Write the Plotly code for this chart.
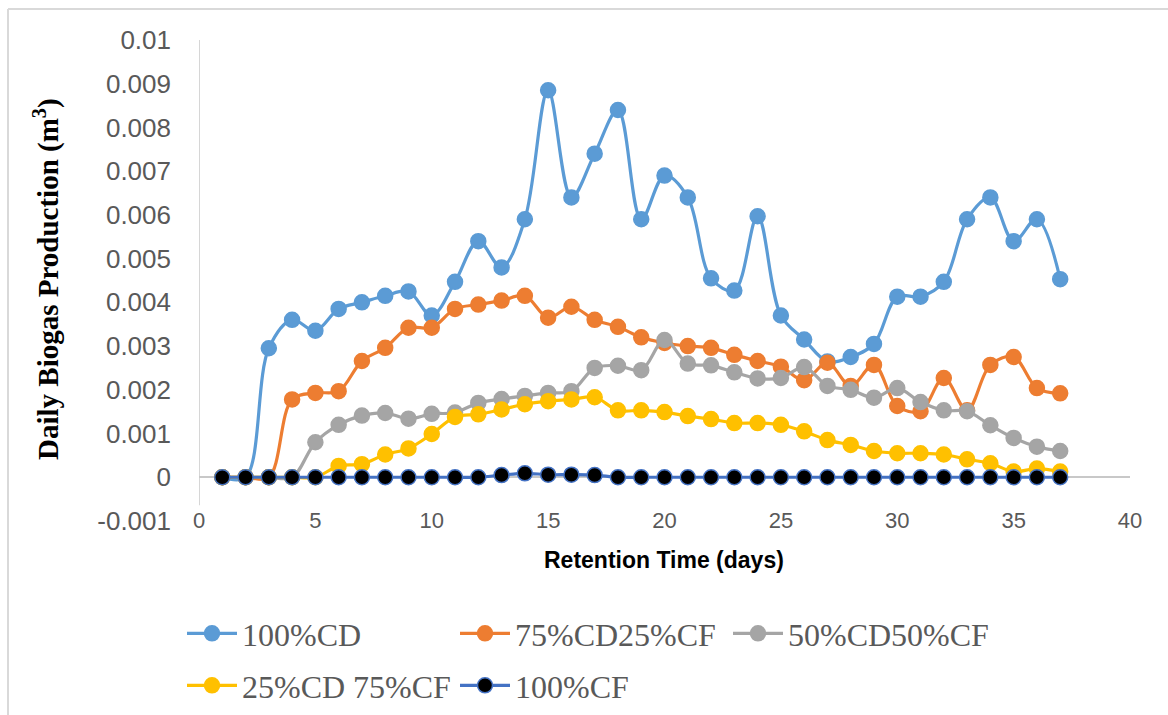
import plotly.graph_objects as go

days = list(range(1, 38))

cd100 = [0, 0, 0.00295, 0.0036, 0.00335, 0.00385, 0.0040, 0.00415, 0.00425, 0.0037,
         0.00447, 0.0054, 0.0048, 0.0059, 0.00885, 0.0064, 0.0074, 0.0084, 0.0059, 0.0069,
         0.0064, 0.00455, 0.00427, 0.00597, 0.0037, 0.00315, 0.00265, 0.00275, 0.00305, 0.00413,
         0.00413, 0.00447, 0.0059, 0.0064, 0.0054, 0.0059, 0.00453]

cd75cf25 = [0, 0, 0, 0.00178, 0.00193, 0.00197, 0.00266, 0.00296, 0.00342, 0.00342,
            0.00385, 0.00395, 0.00404, 0.00415, 0.00365, 0.0039, 0.0036, 0.00344, 0.0032, 0.00307,
            0.0030, 0.00296, 0.0028, 0.00266, 0.00253, 0.00222, 0.00262, 0.00209, 0.00257, 0.00163,
            0.00151, 0.00227, 0.00153, 0.00257, 0.00275, 0.00204, 0.00192]

cd50cf50 = [0, 0, 0, 0, 0.0008, 0.0012, 0.00141, 0.00147, 0.00134, 0.00145,
            0.00148, 0.0017, 0.00179, 0.00186, 0.00193, 0.00197, 0.0025, 0.00255, 0.00245, 0.00314,
            0.0026, 0.00256, 0.0024, 0.00226, 0.00227, 0.00252, 0.00209, 0.002, 0.00182, 0.00204,
            0.00172, 0.00153, 0.00151, 0.00119, 0.0009, 0.0007, 0.0006]

cd25cf75 = [0, 0, 0, 0, 0, 0.00026, 0.0003, 0.00052, 0.00066, 0.00099,
            0.00138, 0.00144, 0.00155, 0.00167, 0.00174, 0.00178, 0.00183, 0.00153, 0.00153, 0.00149,
            0.0014, 0.00133, 0.00124, 0.00124, 0.0012, 0.00105, 0.00085, 0.00074, 0.0006, 0.00055,
            0.00055, 0.00052, 0.00041, 0.00032, 0.00013, 0.0002, 0.00013]

cf100 = [0, 0, 0, 0, 0, 0, 0, 0, 0, 0,
         0, 0, 0.00005, 0.00009, 0.00006, 0.00006, 0.00005, 0, 0, 0,
         0, 0, 0, 0, 0, 0, 0, 0, 0, 0,
         0, 0, 0, 0, 0, 0, 0]

series_names = ["100%CD", "75%CD25%CF", "50%CD50%CF", "25%CD 75%CF", "100%CF"]
series_values = [cd100, cd75cf25, cd50cf50, cd25cf75, cf100]
line_colors = ["#5B9BD5", "#ED7D31", "#A5A5A5", "#FFC000", "#4472C4"]
marker_fill = ["#5B9BD5", "#ED7D31", "#A5A5A5", "#FFC000", "#000000"]
legend_rows = ["legend", "legend", "legend", "legend2", "legend2"]

y_tickvals = [-0.001, 0, 0.001, 0.002, 0.003, 0.004, 0.005, 0.006, 0.007, 0.008, 0.009, 0.01]
y_ticktext = ["-0.001", "0", "0.001", "0.002", "0.003", "0.004", "0.005", "0.006",
              "0.007", "0.008", "0.009", "0.01"]
x_tickvals = [0, 5, 10, 15, 20, 25, 30, 35, 40]
x_ticktext = ["0", "5", "10", "15", "20", "25", "30", "35", "40"]

W, H = 1168, 715
L, R, T, B = 199, 38, 40, 194
pw, ph = W - L - R, H - T - B


def px(x):
    return (x - L) / pw


def py(y):
    return (H - B - y) / ph


def cx(x):
    return x / W


def cy(y):
    return 1 - y / H


fig = go.Figure()
for name, vals, lc, mf, lg in zip(series_names, series_values, line_colors, marker_fill, legend_rows):
    fig.add_trace(go.Scatter(
        x=days, y=vals, name=name, mode="lines+markers", legend=lg,
        line=dict(color=lc, width=3.2, shape="spline", smoothing=1.0),
        marker=dict(size=15, color=mf,
                    line=dict(color=lc if mf == "#000000" else mf, width=1.5)),
    ))

legend_common = dict(
    orientation="h", xanchor="left", yanchor="top",
    xref="container", yref="container",
    entrywidth=208, entrywidthmode="pixels", itemwidth=50,
    font=dict(family="Liberation Serif", size=32, color="#595959"),
    bgcolor="rgba(0,0,0,0)",
)

fig.update_layout(
    width=W, height=H,
    margin=dict(l=L, r=R, t=T, b=B, autoexpand=False),
    paper_bgcolor="white", plot_bgcolor="white",
    showlegend=True,
    legend=dict(x=cx(182), y=cy(606), **legend_common),
    legend2=dict(x=cx(182), y=cy(658), **legend_common),
    xaxis=dict(
        range=[0, 40], tickvals=x_tickvals, ticktext=x_ticktext,
        showgrid=False, zeroline=False, showline=False, ticks="",
        anchor="free", position=py(505),
        tickfont=dict(family="Liberation Sans", size=22, color="#595959"),
    ),
    yaxis=dict(
        range=[-0.001, 0.01], tickvals=y_tickvals, ticktext=y_ticktext,
        showgrid=False, zeroline=True, zerolinecolor="#C8C8C8", zerolinewidth=1.5,
        showline=False, ticks="", ticklabelstandoff=27,
        tickfont=dict(family="Liberation Sans", size=26, color="#595959"),
    ),
    annotations=[
        dict(text="<b>Retention Time (days)</b>", xref="paper", yref="paper",
             x=px(664), y=py(560), xanchor="center", yanchor="middle", showarrow=False,
             font=dict(family="Liberation Sans", size=23, color="#000000")),
        dict(text="<b>Daily Biogas Production (m<sup>3</sup>)</b>", xref="paper", yref="paper",
             x=px(46), y=py(279), xanchor="center", yanchor="middle", showarrow=False,
             textangle=-90,
             font=dict(family="Liberation Serif", size=29, color="#000000")),
    ],
    shapes=[
        dict(type="line", xref="x", yref="y", x0=0, x1=0, y0=-0.00064, y1=0.01,
             line=dict(color="#C8C8C8", width=1.5), layer="below"),
        dict(type="line", xref="paper", yref="paper", x0=px(8), x1=px(8), y0=py(9), y1=py(H + 5),
             line=dict(color="#D9D9D9", width=2)),
        dict(type="line", xref="paper", yref="paper", x0=px(8), x1=px(W + 5), y0=py(9), y1=py(9),
             line=dict(color="#D9D9D9", width=2)),
    ],
)

fig.write_html("out.html")
